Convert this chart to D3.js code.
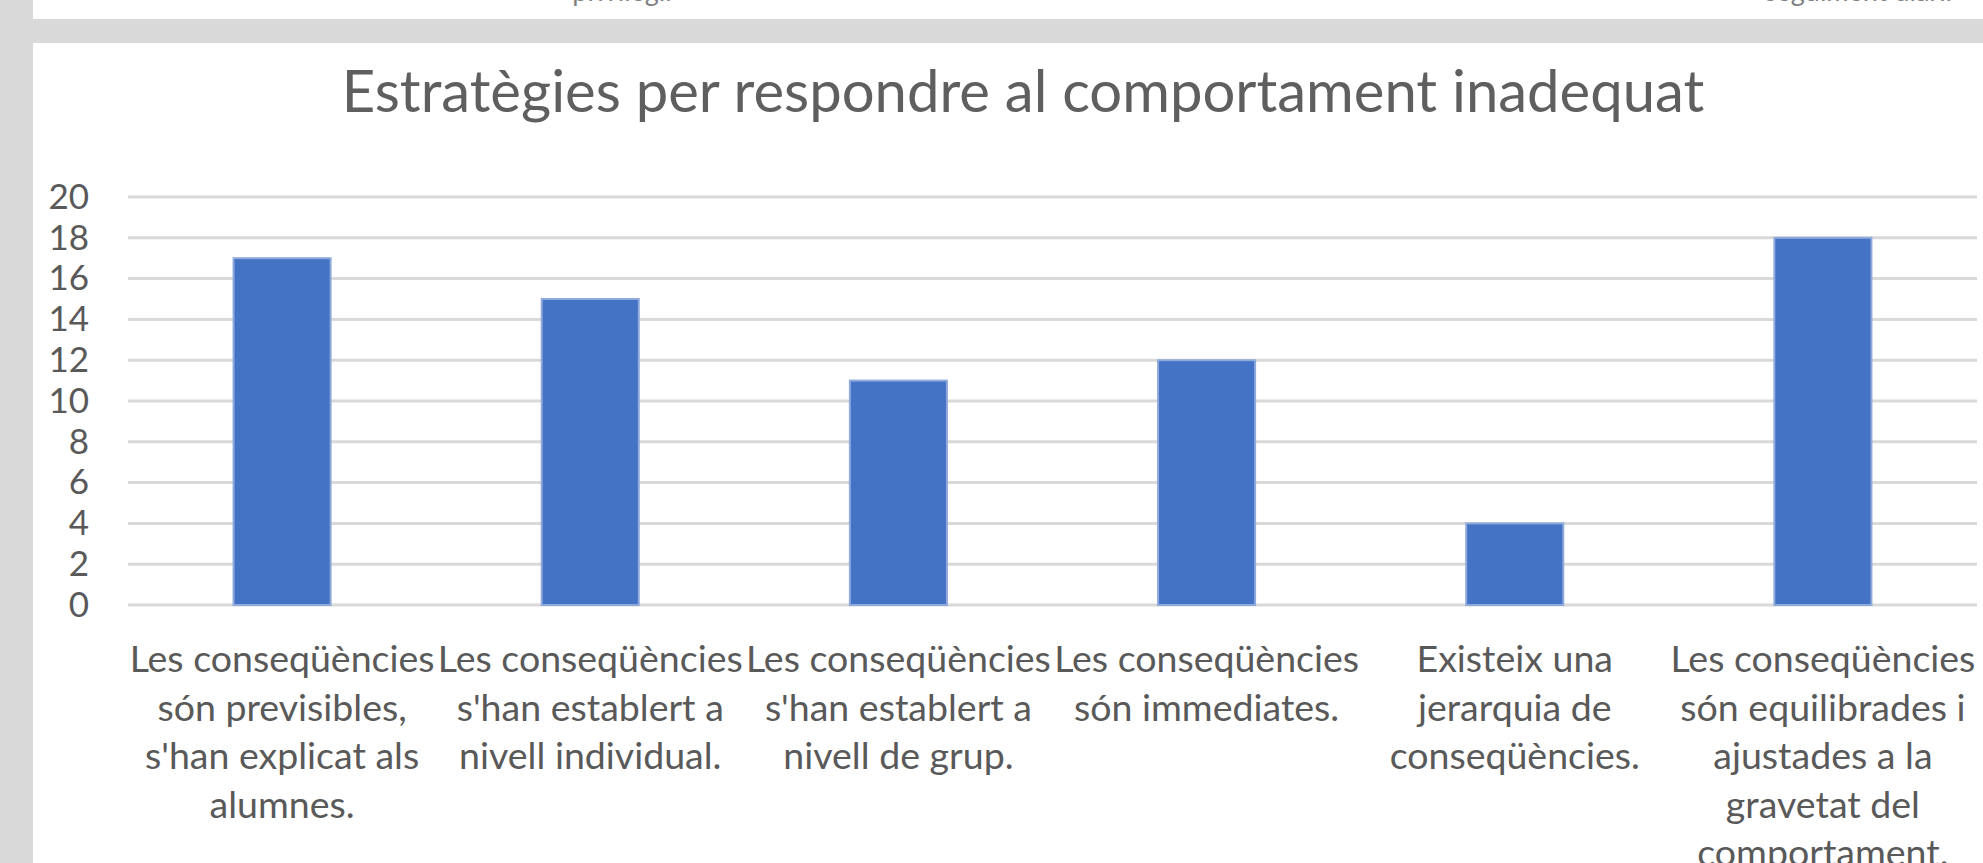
<!DOCTYPE html>
<html>
<head>
<meta charset="utf-8">
<script src="https://cdn.jsdelivr.net/npm/d3@7"></script>
<style>
  html, body { margin: 0; padding: 0; background: #fff; overflow: hidden; }
  text { font-family: Lato, "Open Sans", sans-serif; fill: #595959; }
</style>
</head>
<body>
<div id="chart"></div>
<script>
// chart data
const categories = [
  "Les conseqüències\nsón previsibles,\ns'han explicat als\nalumnes.",
  "Les conseqüències\ns'han establert a\nnivell individual.",
  "Les conseqüències\ns'han establert a\nnivell de grup.",
  "Les conseqüències\nsón immediates.",
  "Existeix una\njerarquia de\nconseqüències.",
  "Les conseqüències\nsón equilibrades i\najustades a la\ngravetat del\ncomportament."
];
const values = [17, 15, 11, 12, 4, 18];
const yTicks = [0, 2, 4, 6, 8, 10, 12, 14, 16, 18, 20];
const title = "Estratègies per respondre al comportament inadequat";

const W = 1983, H = 863;

const svg = d3.select('#chart').append('svg')
  .attr('width', W)
  .attr('height', H);

// page frame bits around the chart
svg.append('rect').attr('x', 0).attr('y', 0).attr('width', W).attr('height', H).attr('fill', '#fff');
svg.append('rect').attr('x', 0).attr('y', 19).attr('width', W).attr('height', 24).attr('fill', '#d9d9d9');
svg.append('rect').attr('x', 0).attr('y', 0).attr('width', 33).attr('height', H).attr('fill', '#d9d9d9');

// cut off text of the chart above
svg.append('text')
  .attr('x', 622).attr('y', 1)
  .attr('text-anchor', 'middle')
  .style('font-size', '27px')
  .style('fill', '#7f7f7f')
  .text('privilegi.');
svg.append('text')
  .attr('x', 1952).attr('y', 1)
  .attr('text-anchor', 'end')
  .style('font-size', '27px')
  .style('fill', '#7f7f7f')
  .text('seguiment diari.');

// title
svg.append('text')
  .attr('x', 1023)
  .attr('y', 112)
  .attr('text-anchor', 'middle')
  .style('font-size', '58px')
  .style('font-weight', 400)
  .style('fill', '#5f5f5f')
  .text(title);

const xScale = d3.scaleBand()
  .domain(categories)
  .range([128, 1977])
  .paddingInner(0.685)
  .paddingOuter(0.3425);

const yScale = d3.scaleLinear()
  .domain([0, 20])
  .range([605, 197]);

// gridlines
svg.append('g')
  .selectAll('line')
  .data(yTicks)
  .join('line')
  .attr('x1', 128)
  .attr('x2', 1977)
  .attr('y1', d => yScale(d))
  .attr('y2', d => yScale(d))
  .attr('stroke', '#d9d9d9')
  .attr('stroke-width', 3);

// y axis labels
const yAxis = svg.append('g')
  .attr('transform', 'translate(89,0)')
  .call(d3.axisLeft(yScale).tickValues(yTicks).tickSize(0).tickPadding(0));
yAxis.select('.domain').remove();
yAxis.selectAll('text')
  .style('font-size', '35px')
  .style('font-family', 'Lato, sans-serif')
  .attr('fill', '#595959');

// bars
svg.append('g')
  .selectAll('rect')
  .data(values)
  .join('rect')
  .attr('x', (d, i) => xScale(categories[i]))
  .attr('y', d => yScale(d))
  .attr('width', xScale.bandwidth())
  .attr('height', d => yScale(0) - yScale(d))
  .attr('fill', '#4472c4')
  .attr('stroke', '#8eaadb')
  .attr('stroke-width', 2);

// category labels
const xAxis = svg.append('g')
  .attr('transform', 'translate(0,605)')
  .call(d3.axisBottom(xScale).tickSize(0).tickFormat(''));
xAxis.select('.domain').remove();
xAxis.selectAll('.tick').each(function(d) {
  const lines = d.split('\n');
  const t = d3.select(this).append('text')
    .attr('text-anchor', 'middle')
    .attr('fill', '#595959')
    .style('font-size', '37.5px')
    .style('font-family', 'Lato, sans-serif');
  lines.forEach((l, j) => {
    t.append('tspan')
      .attr('x', 0)
      .attr('y', 67 + j * 48.5)
      .text(l);
  });
});
</script>
</body>
</html>
